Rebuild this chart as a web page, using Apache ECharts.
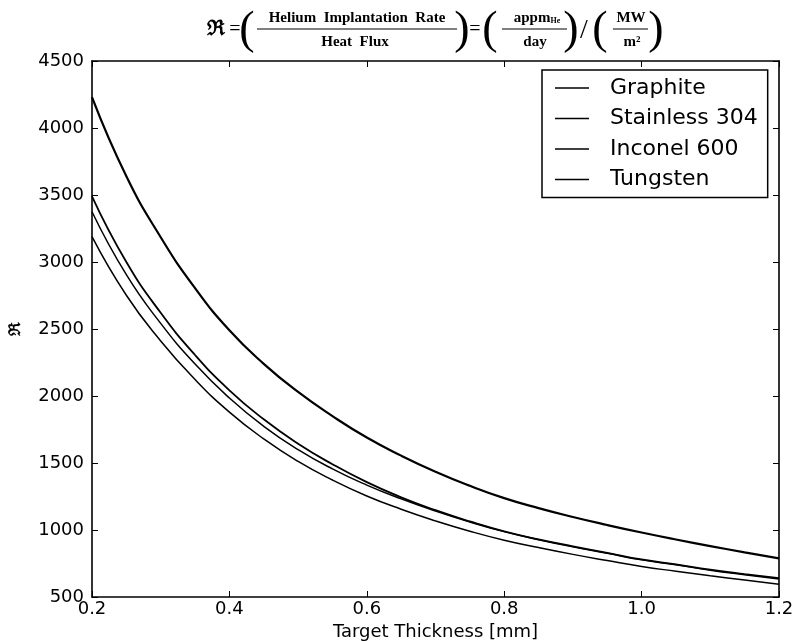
<!DOCTYPE html>
<html>
<head>
<meta charset="utf-8">
<script src="https://cdn.jsdelivr.net/npm/echarts@6/dist/echarts.min.js"></script>
<style>
    html, body { margin: 0; padding: 0; background: #fff; }
    #chart { width: 793px; height: 641px; }
</style>
</head>
<body>
<div id="chart"></div>
<script>
// target thickness in mm
let thickness = [0.2, 0.25, 0.3, 0.35, 0.4, 0.45, 0.5, 0.55, 0.6, 0.65, 0.7,
    0.75, 0.8, 0.85, 0.9, 0.95, 1.0, 1.05, 1.1, 1.15, 1.2];

// R values
let graphite = [4230, 3640, 3185, 2805, 2490, 2240, 2030, 1850, 1690, 1555, 1435,
    1330, 1238, 1163, 1097, 1037, 981, 929, 880, 833, 788];
let stainless304 = [3490, 3000, 2621, 2306, 2042, 1826, 1644, 1491, 1357, 1244, 1148,
    1064, 990, 930, 878, 830, 780, 743, 704, 671, 641];
let inconel600 = [3375, 2905, 2542, 2238, 1985, 1774, 1600, 1456, 1335, 1232, 1141,
    1060, 988, 928, 874, 826, 777, 740, 700, 666, 634];
let tungsten = [3190, 2752, 2411, 2123, 1880, 1680, 1512, 1373, 1254, 1155, 1068,
    991, 924, 869, 818, 772, 728, 692, 658, 626, 595];

let names = ["Graphite", "Stainless 304", "Inconel 600", "Tungsten"];
let widths = [2.2, 1.8, 1.5, 1.5];

let yTicks = [500, 4500, 500];
let xTicks = [0.2, 1.2, 0.2];

let sans = "DejaVu Sans";
let serif = "Liberation Serif, DejaVu Serif, serif";

function pairs(xs, ys) {
    return xs.map((x, i) => [x, ys[i]]);
}

function text(x, y, str, size, weight, extra) {
    let style = {
        text: str,
        x: x,
        y: y,
        align: "center",
        verticalAlign: "middle",
        fill: "#000",
        fontFamily: serif,
        fontSize: size,
        fontWeight: weight
    };
    if (extra) {
        Object.assign(style, extra);
    }
    return {type: "text", style: style, silent: true};
}

function bar(x1, x2, y) {
    return {
        type: "line",
        shape: {x1: x1, y1: y, x2: x2, y2: y},
        style: {stroke: "#000", lineWidth: 1},
        silent: true
    };
}

function titleFormula() {
    return [
        text(216, 30, "\u211C", 21, "bold"),
        text(235, 30, "=", 20, "normal"),
        text(247, 31, "(", 46, "normal"),
        text(357, 18, "Helium  Implantation  Rate", 15, "bold"),
        bar(257, 457, 29),
        text(355, 42, "Heat  Flux", 15, "bold"),
        text(462, 31, ")", 46, "normal"),
        text(475, 30, "=", 20, "normal"),
        text(490, 31, "(", 46, "normal"),
        text(537, 18, "{a|appm}{s|He}", 15, "bold", {
            rich: {
                a: {fontFamily: serif, fontSize: 15, fontWeight: "bold", fill: "#000"},
                s: {fontFamily: serif, fontSize: 8, fontWeight: "bold", fill: "#000", padding: [6, 0, 0, 0]}
            }
        }),
        bar(502, 567, 29),
        text(535, 42, "day", 15, "bold"),
        text(571, 31, ")", 46, "normal"),
        text(584, 31, "/", 28, "normal"),
        text(600, 31, "(", 46, "normal"),
        text(631, 18, "MW", 15, "bold"),
        bar(613, 648, 29),
        text(632, 42, "m\u00B2", 15, "bold"),
        text(656, 31, ")", 46, "normal")
    ];
}

function paint(element) {
    let chart = echarts.init(document.getElementById(element), null, {renderer: "canvas"});
    let sets = [graphite, stainless304, inconel600, tungsten];
    let axisLine = {show: true, onZero: false, lineStyle: {color: "#000", width: 1.6}};
    let tick = {show: true, inside: true, length: 6, lineStyle: {color: "#000", width: 1}};
    let option = {
        animation: false,
        backgroundColor: "#fff",
        grid: {left: 92, right: 14, top: 61, bottom: 44, containLabel: false, outerBoundsMode: "none"},
        graphic: titleFormula(),
        legend: {
            orient: "vertical",
            left: 542,
            top: 70,
            padding: [7, 10, 7, 13],
            itemGap: 8.5,
            itemWidth: 34,
            itemHeight: 1.6,
            icon: "rect",
            borderColor: "#000",
            borderWidth: 1.5,
            borderRadius: 0,
            data: names,
            itemStyle: {color: "#000"},
            textStyle: {
                color: "#000",
                fontFamily: sans,
                fontSize: 22,
                lineHeight: 22,
                padding: [0, 0, 0, 16]
            }
        },
        xAxis: [
            {
                type: "value",
                min: xTicks[0],
                max: xTicks[1],
                interval: xTicks[2],
                name: "Target Thickness [mm]",
                nameLocation: "middle",
                nameGap: 21,
                nameTextStyle: {color: "#000", fontFamily: sans, fontSize: 18},
                axisLine: axisLine,
                axisTick: tick,
                splitLine: {show: false},
                axisLabel: {
                    color: "#000",
                    fontFamily: sans,
                    fontSize: 18,
                    margin: 3,
                    formatter: v => v.toFixed(1)
                }
            },
            {
                type: "value",
                position: "top",
                min: xTicks[0],
                max: xTicks[1],
                interval: xTicks[2],
                axisLine: axisLine,
                axisTick: tick,
                splitLine: {show: false},
                axisLabel: {show: false}
            }
        ],
        yAxis: [
            {
                type: "value",
                min: yTicks[0],
                max: yTicks[1],
                interval: yTicks[2],
                name: "\u211C",
                nameLocation: "middle",
                nameRotate: 90,
                nameGap: 68,
                nameMoveOverlap: false,
                nameTextStyle: {color: "#000", fontFamily: serif, fontSize: 16, fontWeight: "bold"},
                axisLine: axisLine,
                axisTick: tick,
                splitLine: {show: false},
                axisLabel: {
                    color: "#000",
                    fontFamily: sans,
                    fontSize: 18,
                    margin: 8,
                    formatter: v => String(v)
                }
            },
            {
                type: "value",
                position: "right",
                min: yTicks[0],
                max: yTicks[1],
                interval: yTicks[2],
                axisLine: axisLine,
                axisTick: tick,
                splitLine: {show: false},
                axisLabel: {show: false}
            }
        ],
        series: sets.map(function (values, i) {
            return {
                name: names[i],
                type: "line",
                data: pairs(thickness, values),
                smooth: true,
                symbol: "none",
                showSymbol: false,
                lineStyle: {color: "#000", width: widths[i]},
                itemStyle: {color: "#000"}
            };
        })
    };
    chart.setOption(option);
}

paint("chart");
</script>
</body>
</html>
